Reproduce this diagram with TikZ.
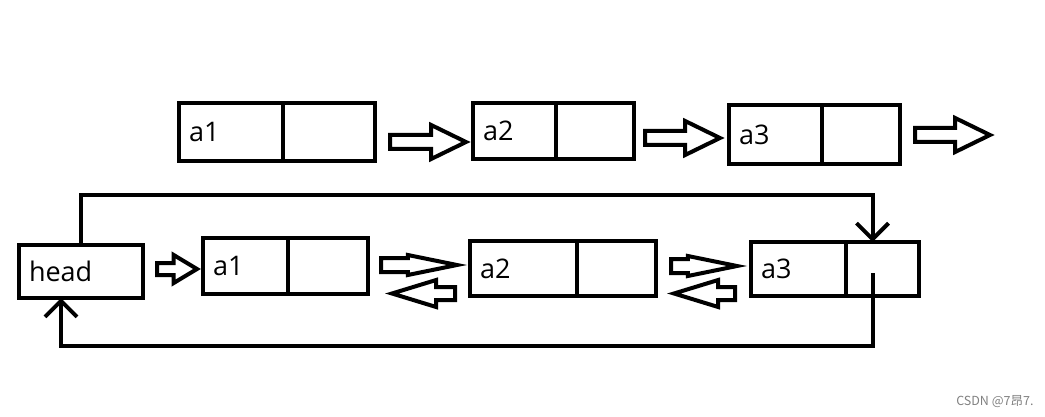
\documentclass[tikz,border=0pt]{standalone}
\usepackage{fontspec}
\setmainfont{Open Sans}
\newfontfamily\cjkfont{Noto Sans CJK SC}
\usetikzlibrary{positioning,shapes.arrows,arrows.meta}

\tikzset{
  cell/.style={draw, line width=4pt, inner sep=0pt, outer sep=0pt},
  datacell/.style={cell, inner xsep=10pt, align=left, font=\fontsize{27}{31}\selectfont},
  fatarrow/.style={draw, line width=4pt, single arrow, single arrow head extend=10pt,
    single arrow tip angle=52, single arrow head indent=0pt, inner xsep=0pt, inner ysep=5pt,
    outer sep=0pt, anchor=tip},
  shortarrow/.style={fatarrow, inner ysep=4pt, single arrow head extend=8pt, single arrow tip angle=62},
  slimarrow/.style={fatarrow, single arrow head extend=3pt, single arrow tip angle=23},
  backarrow/.style={fatarrow, inner ysep=4.5pt, single arrow head extend=7pt,
    single arrow tip angle=34, shape border rotate=180},
  loopline/.style={line width=4pt, -{Straight Barb[length=16pt,width=32pt,line width=4pt]}}
}

\begin{document}
\begin{tikzpicture}[x=1pt,y=-1pt]
    \useasboundingbox (0,0) rectangle (1045,417);
    % upper list
    \node[datacell, text width=84pt, minimum height=58pt, anchor=north west] (t1) at (179,103) {a1};
    \node[cell, minimum width=92pt, minimum height=58pt, right=0pt of t1] (t1p) {};
    \node[datacell, text width=63pt, minimum height=56pt, anchor=north west] (t2) at (473,103) {a2};
    \node[cell, minimum width=78pt, minimum height=56pt, right=0pt of t2] (t2p) {};
    \node[datacell, text width=73pt, minimum height=59pt, anchor=north west] (t3) at (729,105) {a3};
    \node[cell, minimum width=78pt, minimum height=59pt, right=0pt of t3] (t3p) {};
    \node[fatarrow, minimum height=76pt] (r1) at (466,142) {};
    \node[fatarrow, minimum height=75pt] (r2) at (720,138) {};
    \node[fatarrow, minimum height=75pt] (r3) at (990,135) {};
    % lower list
    \node[datacell, text width=104pt, minimum height=53pt, anchor=north west] (head) at (19,245) {head};
    \node[datacell, text width=65pt, minimum height=56pt, anchor=north west] (b1) at (203,238) {a1};
    \node[cell, minimum width=80pt, minimum height=56pt, right=0pt of b1] (b1p) {};
    \node[datacell, text width=87pt, minimum height=55pt, anchor=north west] (b2) at (470,241) {a2};
    \node[cell, minimum width=79pt, minimum height=55pt, right=0pt of b2] (b2p) {};
    \node[datacell, text width=75pt, minimum height=54pt, anchor=north west] (b3) at (751,242) {a3};
    \node[cell, minimum width=73pt, minimum height=54pt, right=0pt of b3] (b3p) {};
    \node[shortarrow, minimum height=40pt] (s0) at (197,269) {};
    \node[slimarrow, minimum height=76pt] (s1) at (457,265) {};
    \node[backarrow, minimum height=63pt] (s2) at (392,293.5) {};
    \node[slimarrow, minimum height=66pt] (s3) at (737,266) {};
    \node[backarrow, minimum height=61pt] (s4) at (674,293.5) {};
    % circular links
    \draw[loopline] (head.north) -- ++(0,-50) -| ([xshift=-10pt]b3p.north);
    \draw[loopline] ([xshift=-10pt,yshift=-4pt]b3p.center) -- ++(0,73) -| ([xshift=-20pt]head.south);
    \node[text=gray, font=\cjkfont\fontsize{12.5}{14}\selectfont, anchor=east] (mark) at (1037,402) {CSDN @7昂7.};
\end{tikzpicture}
\end{document}
